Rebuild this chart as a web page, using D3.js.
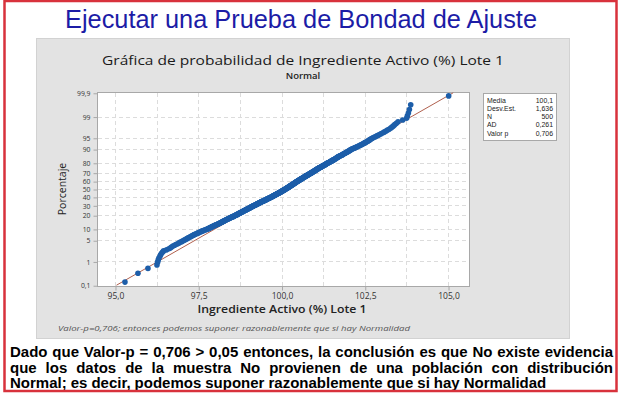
<!DOCTYPE html>
<html><head><meta charset="utf-8">
<script src="https://cdn.jsdelivr.net/npm/d3@7"></script>
<style>body{margin:0;background:#fff}svg{display:block}</style>
</head><body><svg id="c" width="620" height="394"></svg>
<script>
// ---- DATA (sorted sample values, rank order) ----
const values = [
95.30,95.69,95.99,96.26,96.28,96.30,96.32,96.35,96.37,96.40,96.43,96.46,
96.55,96.62,96.67,96.70,96.74,96.79,96.83,96.88,96.92,96.95,97.00,97.03,97.07,
97.10,97.13,97.16,97.19,97.22,97.25,97.28,97.30,97.33,97.36,97.38,97.41,97.44,97.47,97.50,97.52,97.55,97.58,97.60,97.63,97.66,97.69,97.72,97.75,97.78,
97.80,97.82,97.84,97.86,97.88,97.90,97.92,97.94,97.96,97.98,98.00,98.02,98.04,98.06,98.08,98.10,98.12,98.14,98.15,98.17,98.19,98.20,98.22,98.23,98.25,
98.27,98.28,98.30,98.31,98.33,98.34,98.36,98.37,98.39,98.40,98.42,98.43,98.45,98.46,98.48,98.49,98.51,98.52,98.54,98.55,98.57,98.58,98.59,98.61,98.62,
98.63,98.65,98.66,98.67,98.68,98.70,98.71,98.72,98.73,98.74,98.76,98.77,98.78,98.79,98.80,98.82,98.83,98.84,98.85,98.86,98.87,98.88,98.89,98.91,98.92,
98.93,98.94,98.95,98.96,98.97,98.98,99.00,99.01,99.02,99.03,99.04,99.05,99.06,99.07,99.08,99.09,99.10,99.11,99.12,99.13,99.14,99.15,99.16,99.17,99.19,
99.20,99.21,99.22,99.23,99.24,99.25,99.26,99.27,99.28,99.29,99.30,99.31,99.32,99.33,99.34,99.35,99.36,99.37,99.38,99.39,99.40,99.41,99.42,99.43,99.45,
99.46,99.47,99.48,99.49,99.50,99.51,99.52,99.53,99.54,99.55,99.56,99.57,99.58,99.59,99.60,99.61,99.62,99.63,99.64,99.65,99.66,99.67,99.68,99.69,99.70,
99.71,99.72,99.73,99.73,99.74,99.75,99.76,99.77,99.78,99.79,99.80,99.80,99.81,99.82,99.83,99.84,99.85,99.86,99.87,99.87,99.88,99.89,99.90,99.91,99.92,
99.93,99.94,99.94,99.95,99.96,99.97,99.98,99.98,99.99,100.00,100.01,100.02,100.02,100.03,100.04,100.05,100.06,100.06,100.07,100.08,100.09,100.10,100.10,100.11,100.12,
100.13,100.14,100.14,100.15,100.16,100.16,100.17,100.18,100.19,100.19,100.20,100.21,100.22,100.22,100.23,100.24,100.24,100.25,100.26,100.27,100.27,100.28,100.29,100.29,100.30,
100.31,100.32,100.32,100.33,100.34,100.34,100.35,100.36,100.37,100.37,100.38,100.39,100.39,100.40,100.41,100.42,100.42,100.43,100.44,100.44,100.45,100.46,100.47,100.47,100.48,
100.49,100.50,100.50,100.51,100.52,100.53,100.54,100.54,100.55,100.56,100.57,100.58,100.58,100.59,100.60,100.61,100.62,100.62,100.63,100.64,100.65,100.66,100.66,100.67,100.68,
100.69,100.70,100.71,100.71,100.72,100.73,100.74,100.75,100.76,100.77,100.78,100.78,100.79,100.80,100.81,100.82,100.83,100.84,100.85,100.85,100.86,100.87,100.88,100.89,100.90,
100.91,100.92,100.93,100.93,100.94,100.95,100.96,100.97,100.98,100.99,101.00,101.00,101.01,101.02,101.03,101.04,101.05,101.06,101.07,101.07,101.08,101.09,101.10,101.11,101.12,
101.13,101.14,101.15,101.17,101.18,101.19,101.20,101.21,101.22,101.23,101.24,101.25,101.26,101.27,101.29,101.30,101.31,101.32,101.33,101.34,101.35,101.36,101.37,101.38,101.40,
101.41,101.42,101.44,101.45,101.46,101.47,101.48,101.50,101.51,101.52,101.53,101.54,101.56,101.57,101.58,101.59,101.60,101.62,101.63,101.64,101.65,101.66,101.68,101.69,101.70,
101.72,101.73,101.75,101.76,101.78,101.80,101.81,101.83,101.84,101.86,101.88,101.89,101.91,101.92,101.94,101.96,101.97,101.99,102.00,102.02,102.04,102.05,102.07,102.08,102.10,
102.12,102.15,102.17,102.20,102.22,102.25,102.27,102.30,102.32,102.35,102.37,102.40,102.42,102.45,102.47,102.50,102.52,102.55,102.57,102.60,102.62,102.65,102.67,102.70,102.72,
102.76,102.80,102.84,102.88,102.92,102.96,103.00,103.05,103.09,103.14,103.18,103.23,103.28,
103.32,103.36,103.40,103.45,103.50,103.64,103.76,103.78,103.81,103.84,103.88,105.02
];
const fitMean = 100.1;
const fitSd = 1.636;
const yTicks = [0.1, 1, 5, 10, 20, 30, 40, 50, 60, 70, 80, 90, 95, 99, 99.9];
const yTickLabels = ["0,1","1","5","10","20","30","40","50","60","70","80","90","95","99","99,9"];
const xTicks = [95, 97.5, 100, 102.5, 105];
const xTickLabels = ["95,0","97,5","100,0","102,5","105,0"];
const xGrid = [95, 96.25, 97.5, 98.75, 100, 101.25, 102.5, 103.75, 105];
const statLabels = ["Media","Desv.Est.","N","AD","Valor p"];
const statValues = ["100,1","1,636","500","0,261","0,706"];
const pageTitle = "Ejecutar una Prueba de Bondad de Ajuste";
const chartTitle = "Gráfica de probabilidad de Ingrediente Activo (%) Lote 1";
const chartSubtitle = "Normal";
const xTitle = "Ingrediente Activo (%) Lote 1";
const yTitle = "Porcentaje";
const footnote = "Valor-p=0,706; entonces podemos suponer razonablemente que si hay Normalidad";
const conclusion = [
 "Dado que Valor-p = 0,706 > 0,05 entonces, la conclusión es que No existe evidencia",
 "que los datos de la muestra No provienen de una población con distribución",
 "Normal; es decir, podemos suponer razonablemente que si hay Normalidad"
];

// inverse standard normal CDF (probability-paper transform)
function probit(p){
 const a=[-3.969683028665376e+01,2.209460984245205e+02,-2.759285104469687e+02,1.383577518672690e+02,-3.066479806614716e+01,2.506628277459239e+00];
 const b=[-5.447609879822406e+01,1.615858368580409e+02,-1.556989798598866e+02,6.680131188771972e+01,-1.328068155288572e+01];
 const c=[-7.784894002430293e-03,-3.223964580411365e-01,-2.400758277161838e+00,-2.549732539343734e+00,4.374664141464968e+00,2.938163982698783e+00];
 const d=[7.784695709041462e-03,3.224671290700398e-01,2.445134137142996e+00,3.754408661907416e+00];
 const pl=0.02425;
 if(p<pl){const q=Math.sqrt(-2*Math.log(p));return (((((c[0]*q+c[1])*q+c[2])*q+c[3])*q+c[4])*q+c[5])/((((d[0]*q+d[1])*q+d[2])*q+d[3])*q+1);}
 if(p>1-pl){const q=Math.sqrt(-2*Math.log(1-p));return -(((((c[0]*q+c[1])*q+c[2])*q+c[3])*q+c[4])*q+c[5])/((((d[0]*q+d[1])*q+d[2])*q+d[3])*q+1);}
 const q=p-0.5,r=q*q;return (((((a[0]*r+a[1])*r+a[2])*r+a[3])*r+a[4])*r+a[5])*q/(((((b[0]*r+b[1])*r+b[2])*r+b[3])*r+b[4])*r+1);
}

const svg = d3.select("#c");
const W = 620, H = 394;
svg.append("rect").attr("x",0).attr("y",0).attr("width",W).attr("height",H).attr("fill","#fff");

// page title
svg.append("text").attr("x",301).attr("y",28).attr("text-anchor","middle")
 .attr("font-family","Liberation Sans, Arial, sans-serif").attr("font-size",25.5)
 .attr("fill","#1c1ca6").attr("textLength",472).attr("lengthAdjust","spacingAndGlyphs").text(pageTitle);

// gray panel
svg.append("rect").attr("x",36.5).attr("y",38.5).attr("width",533).attr("height",300)
 .attr("fill","#e3e3e3").attr("stroke","#d2d2d2");

const pl = {l:97, r:469, t:92, b:286};
const x = d3.scaleLinear().domain([94.46, 105.63]).range([pl.l, pl.r]);
const zMax = 3.115;
const y = d3.scaleLinear().domain([-zMax, zMax]).range([pl.b, pl.t]);

svg.append("rect").attr("x",pl.l+0.5).attr("y",pl.t+0.5).attr("width",pl.r-pl.l).attr("height",pl.b-pl.t)
 .attr("fill","#fff").attr("stroke","#a8a8a8");

const grid = svg.append("g").attr("stroke","#dcdcdc").attr("stroke-dasharray","4,3").attr("stroke-width",1);
grid.selectAll("line.v").data(xGrid).join("line").attr("class","v")
 .attr("x1",d=>Math.round(x(d))+0.5).attr("x2",d=>Math.round(x(d))+0.5).attr("y1",pl.t+1).attr("y2",pl.b);
grid.selectAll("line.h").data(yTicks.slice(1,-1)).join("line").attr("class","h")
 .attr("y1",d=>Math.round(y(probit(d/100)))+0.5).attr("y2",d=>Math.round(y(probit(d/100)))+0.5).attr("x1",pl.l+1).attr("x2",pl.r);

const font = "Open Sans, Noto Sans, sans-serif";
// axes
const yAxis = d3.axisLeft(y).tickValues(yTicks.map(p=>probit(p/100))).tickFormat((d,i)=>yTickLabels[i]).tickSize(4).tickPadding(3);
const gy = svg.append("g").attr("transform",`translate(${pl.l+0.5},0.5)`).call(yAxis);
gy.select(".domain").remove();
gy.selectAll("line").attr("stroke","#a8a8a8");
gy.selectAll("text").attr("font-family",font).attr("font-size",6.8).attr("fill","#333");

const xAxis = d3.axisBottom(x).tickValues(xTicks).tickFormat((d,i)=>xTickLabels[i]).tickSize(4).tickPadding(2);
const gx = svg.append("g").attr("transform",`translate(0.5,${pl.b+0.5})`).call(xAxis);
gx.select(".domain").remove();
gx.selectAll("line").attr("stroke","#a8a8a8");
gx.selectAll("text").attr("font-family",font).attr("font-size",8.5).attr("fill","#333");

// fit line
const zEnd = probit(0.999);
svg.append("line").attr("x1",x(fitMean - fitSd*zEnd)).attr("y1",y(-zEnd))
 .attr("x2",x(fitMean + fitSd*zEnd)).attr("y2",y(zEnd)).attr("stroke","#b0604e").attr("stroke-width",1);

// points with median-rank plotting positions
const n = values.length;
svg.append("g").selectAll("circle").data(values).join("circle")
 .attr("cx",d=>x(d)).attr("cy",(d,i)=>y(probit((i+1-0.3)/(n+0.4)))).attr("r",2.8).attr("fill","#1d5ea9");

// titles
svg.append("text").attr("x",303).attr("y",64.5).attr("text-anchor","middle").attr("font-family",font)
 .attr("font-size",13).attr("fill","#1a1a1a").attr("textLength",402).attr("lengthAdjust","spacingAndGlyphs").text(chartTitle);
svg.append("text").attr("x",303).attr("y",79.2).attr("text-anchor","middle").attr("font-family",font)
 .attr("font-size",9.5).attr("font-weight",600).attr("fill","#222").text(chartSubtitle);
svg.append("text").attr("x",282).attr("y",313).attr("text-anchor","middle").attr("font-family",font)
 .attr("font-size",11.5).attr("font-weight",600).attr("fill","#222").attr("textLength",169).attr("lengthAdjust","spacingAndGlyphs").text(xTitle);
svg.append("text").attr("transform","translate(66,189) rotate(-90)").attr("text-anchor","middle").attr("font-family",font)
 .attr("font-size",10.5).attr("fill","#222").text(yTitle);
svg.append("text").attr("x",58).attr("y",331).attr("font-family",font).attr("font-style","italic")
 .attr("font-size",8).attr("fill","#555").attr("textLength",352).attr("lengthAdjust","spacingAndGlyphs").text(footnote);

// stats box
svg.append("rect").attr("x",483.5).attr("y",93.5).attr("width",73).attr("height",47).attr("fill","#fff").attr("stroke","#a8a8a8");
const sg = svg.append("g").attr("font-family","Liberation Sans, Arial, sans-serif").attr("font-size",6.9).attr("fill","#222");
sg.selectAll("text.l").data(statLabels).join("text").attr("class","l").attr("x",487).attr("y",(d,i)=>102.8+i*8.2).text(d=>d);
sg.selectAll("text.v").data(statValues).join("text").attr("class","v").attr("x",553).attr("text-anchor","end").attr("y",(d,i)=>102.8+i*8.2).text(d=>d);

// conclusion paragraph (justified)
const left = 10, right = 613, baseY = [357, 372.5, 388];
const pg = svg.append("g").attr("font-family","Liberation Sans, Arial, sans-serif").attr("font-weight","bold").attr("font-size",15).attr("fill","#000");
conclusion.forEach((line,li)=>{
 const words = line.split(" ");
 const t = pg.append("text").attr("y",baseY[li]);
 const spans = words.map(w=>t.append("tspan").text(w));
 const widths = spans.map(s=>s.node().getComputedTextLength());
 const total = d3.sum(widths);
 const spaceW = 4.0;
 let gap = li < 2 ? (right-left-total)/(words.length-1) : spaceW;
 let cx = left;
 spans.forEach((s,k)=>{ s.attr("x",cx); cx += widths[k] + gap; });
});

// red frame
svg.append("rect").attr("x",4.5).attr("y",1).attr("width",612).attr("height",390)
 .attr("fill","none").attr("stroke","#d8323c").attr("stroke-width",2.5);
</script></body></html>
